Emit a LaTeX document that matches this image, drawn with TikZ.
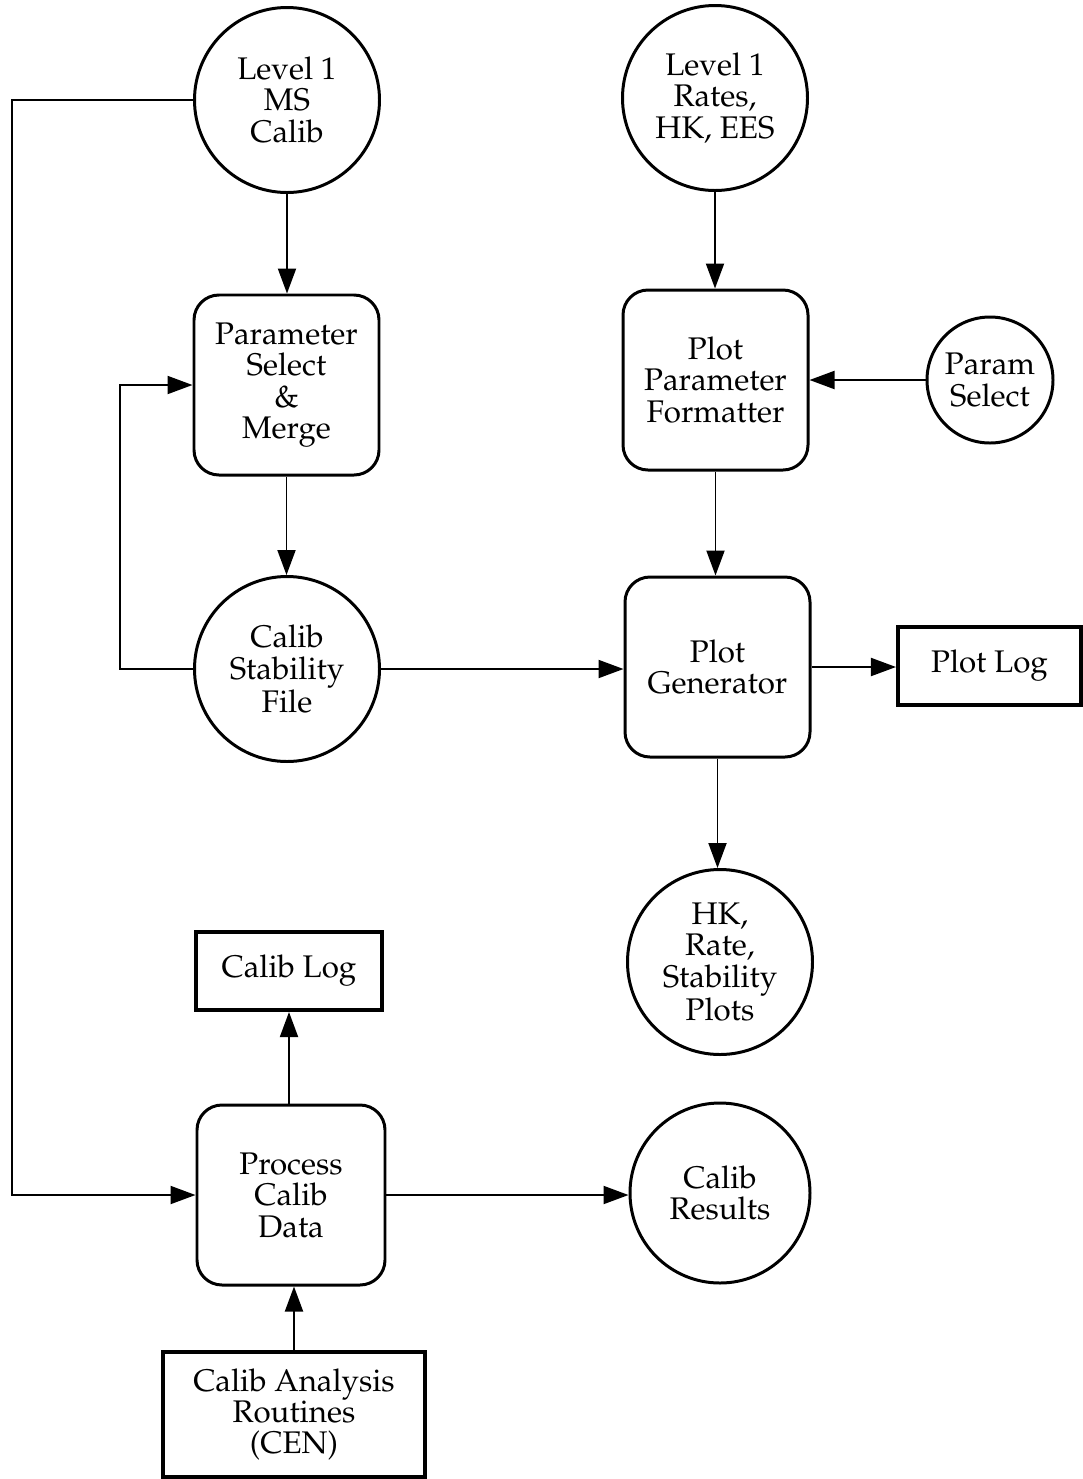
\documentclass[tikz,border=0pt]{standalone}
\usepackage[T1]{fontenc}
\usepackage{mathpazo}
\usetikzlibrary{arrows.meta}

\tikzset{
	store/.style={draw, circle, line width=1.7pt, minimum size=3.7cm, inner sep=0pt, align=center},
	proc/.style={draw, rounded corners=0.5cm, line width=1.7pt, minimum width=3.7cm, minimum height=3.6cm, align=center},
	ext/.style={draw, line width=2.3pt, minimum height=1.56cm, align=center},
	flow/.style={line width=1.1pt, -{Triangle[length=0.5cm,width=0.36cm]}}
}

\begin{document}
\begin{tikzpicture}[font=\fontsize{17.8}{17.8}\selectfont]
		\useasboundingbox (0,0) rectangle (21.66,-29.58);

		% left column
		\node[store] (ms) at (5.74,-2.0) {Level 1\\MS\\Calib};
		\node[proc] (psm) at (5.73,-7.7) {Parameter\\Select\\\&\\Merge};
		\node[store] (csf) at (5.74,-13.38) {Calib\\Stability\\File};
		\node[ext, minimum width=3.72cm] (clog) at (5.78,-19.42) {Calib Log};
		\node[proc, minimum width=3.76cm] (pcd) at (5.82,-23.9) {Process\\Calib\\Data};
		\node[ext, minimum width=5.24cm, minimum height=2.5cm] (car) at (5.88,-28.29) {Calib Analysis\\Routines\\(CEN)};

		% right column
		\node[store] (rates) at (14.3,-1.96) {Level 1\\Rates,\\HK, EES};
		\node[proc] (ppf) at (14.31,-7.6) {Plot\\Parameter\\Formatter};
		\node[store, minimum size=2.52cm] (psel) at (19.8,-7.6) {Param\\Select};
		\node[proc] (pgen) at (14.35,-13.34) {Plot\\Generator};
		\node[ext, minimum width=3.66cm] (plog) at (19.79,-13.32) {Plot Log};
		\node[store] (plots) at (14.4,-19.24) {HK,\\Rate,\\Stability\\Plots};
		\node[store, minimum size=3.6cm] (cres) at (14.4,-23.86) {Calib\\Results};

		\coordinate (lft) at (0.24,0);
		\coordinate (fb) at (2.4,0);

		\draw[flow] (ms.south) -- (ms.south |- psm.north);
		\draw[flow] (psm.south) -- (psm.south |- csf.north);
		\draw[flow] (csf.west) -- (csf.west -| fb) |- (psm.west);
		\draw[flow] (csf.east) -- (csf.east -| pgen.west);
		\draw[flow] (rates.south) -- (rates.south |- ppf.north);
		\draw[flow] (psel.west) -- (psel.west -| ppf.east);
		\draw[flow] (ppf.south) -- (ppf.south |- pgen.north);
		\draw[flow] (pgen.east) -- (pgen.east -| plog.west);
		\draw[flow] (pgen.south) -- (pgen.south |- plots.north);
		\draw[flow] (ms.west) -- (ms.west -| lft) |- (pcd.west);
		\draw[flow] (pcd.north -| clog.south) -- (clog.south);
		\draw[flow] (pcd.east) -- (pcd.east -| cres.west);
		\draw[flow] (car.north) -- (car.north |- pcd.south);
	\end{tikzpicture}
\end{document}
